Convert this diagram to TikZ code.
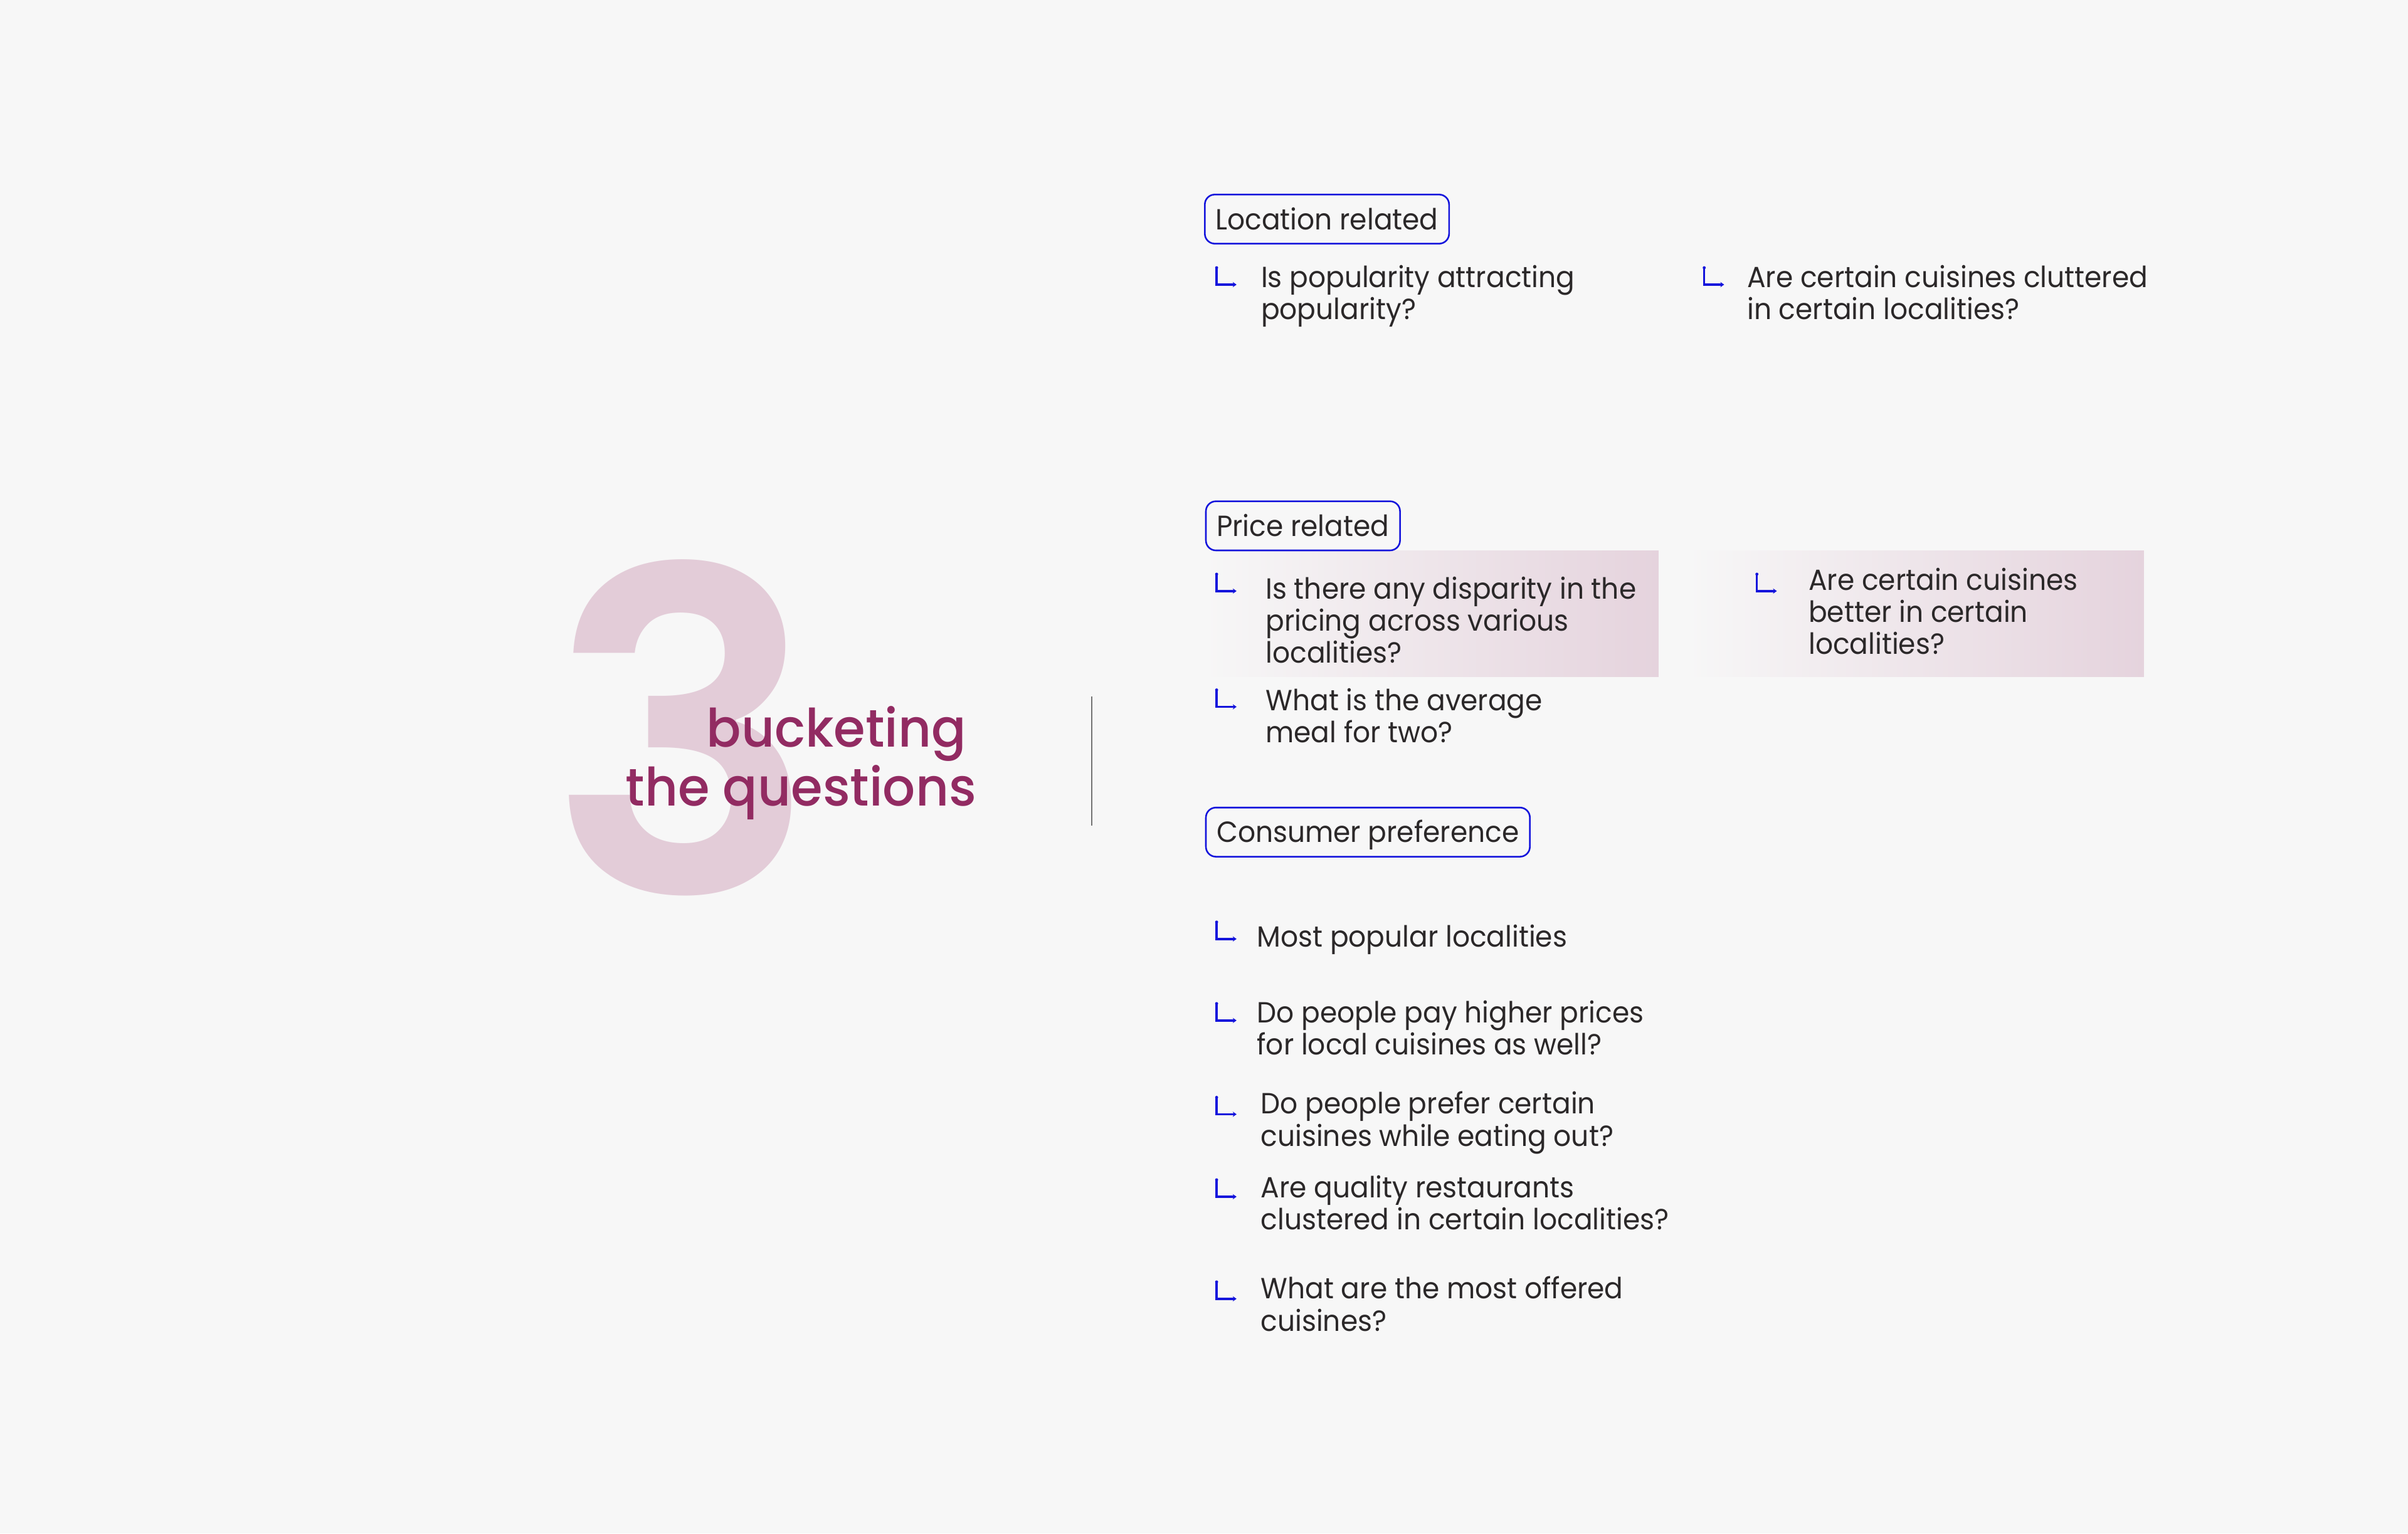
\documentclass[tikz,border=0pt]{standalone}
\usepackage{fontspec}
\setmainfont{Poppins}[FakeStretch=0.945]
\newfontfamily\titlefont{Poppins}[UprightFont=* Medium, FakeStretch=0.97]
\newfontfamily\numfont{Poppins}[UprightFont=* SemiBold]
\usetikzlibrary{positioning,arrows.meta}

\definecolor{bgcol}{HTML}{F7F7F7}
\definecolor{txtcol}{HTML}{2B2829}
\definecolor{iconblue}{HTML}{1414DC}
\definecolor{titlecol}{HTML}{922B62}
\definecolor{threecol}{HTML}{E3CCD8}
\definecolor{shadecol}{HTML}{E5D3DD}
\definecolor{sepcol}{HTML}{737373}

\tikzset{
	qarrow/.pic={
		\fill[iconblue] (0,0) circle (0.01);
		\draw[iconblue, line width=0.4pt, -{Stealth[length=0.25mm,width=0.34mm]}] (0,0) -- (0,-0.11) -- (0.13,-0.11);
	}
}

\begin{document}
\begin{tikzpicture}[
	tag/.style={draw=iconblue, line width=0.3pt, rounded corners=0.065cm, anchor=north west,
		inner xsep=0.07cm, inner ysep=0.0925cm, text height=0.135cm, text depth=0cm,
		text=txtcol, font=\fontsize{5.4}{5.95}\selectfont},
	question/.style={anchor=north west, inner sep=0pt, align=left, text=txtcol,
		font=\fontsize{5.4}{5.95}\selectfont},
	title/.style={anchor=base west, inner sep=0pt, text=titlecol,
		font=\titlefont\fontsize{9.8}{11}\selectfont}
	]

		% background
		\useasboundingbox (0,0) rectangle (15.68,-9.988);
		\fill[bgcol] (0,0) rectangle (15.68,-9.988);

		% big number and title
		\node[anchor=base, inner sep=0pt, text=threecol, font=\numfont\fontsize{83}{83}\selectfont] (num) at (4.45,-5.82) {3};
		\node[title] (title1) at (4.594,-4.867) {bucketing};
		\node[title] (title2) at (4.067,-5.25) {the questions};

		% separator
		\draw[sepcol, line width=0.25pt] (7.11,-4.535) -- (7.11,-5.378);

		% shaded rows
		\shade[left color=bgcol, right color=shadecol] (7.84,-3.586) rectangle (10.80,-4.41);
		\shade[left color=bgcol, right color=shadecol] (10.99,-3.586) rectangle (13.96,-4.41);

		%% Location related %%
		\node[tag] (loc) at (7.84,-1.262) {Location related};
		\pic at (7.922,-1.744) {qarrow};
		\node[question] (loc1) at (8.205,-1.719) {Is popularity attracting\\popularity?};
		\pic at (11.097,-1.744) {qarrow};
		\node[question] (loc2) at (11.37,-1.719) {Are certain cuisines cluttered\\in certain localities?};

		%% Price related %%
		\node[tag] (price) at (7.847,-3.26) {Price related};
		\pic at (7.922,-3.74) {qarrow};
		\node[question] (price1) at (8.235,-3.749) {Is there any disparity in the\\pricing across various\\localities?};
		\pic at (11.44,-3.74) {qarrow};
		\node[question] (price2) at (11.77,-3.692) {Are certain cuisines\\better in certain\\localities?};
		\pic at (7.922,-4.494) {qarrow};
		\node[question] (price3) at (8.235,-4.476) {What is the average\\meal for two?};

		%% Consumer preference %%
		\node[tag] (cons) at (7.847,-5.255) {Consumer preference};
		\pic at (7.922,-6.006) {qarrow};
		\node[question] (cons1) at (8.178,-6.015) {Most popular localities};
		\pic at (7.922,-6.537) {qarrow};
		\node[question] (cons2) at (8.178,-6.509) {Do people pay higher prices\\for local cuisines as well?};
		\pic at (7.922,-7.148) {qarrow};
		\node[question] (cons3) at (8.203,-7.104) {Do people prefer certain\\cuisines while eating out?};
		\pic at (7.922,-7.685) {qarrow};
		\node[question] (cons4) at (8.203,-7.648) {Are quality restaurants\\clustered in certain localities?};
		\pic at (7.922,-8.35) {qarrow};
		\node[question] (cons5) at (8.203,-8.308) {What are the most offered\\cuisines?};

	\end{tikzpicture}
\end{document}
